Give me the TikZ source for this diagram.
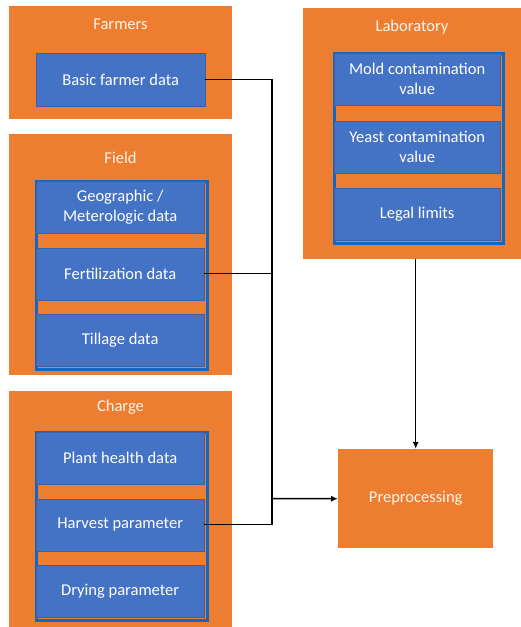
\documentclass[tikz,border=0pt]{standalone}
\usepackage{fontspec}
\setmainfont{Carlito}
\usetikzlibrary{arrows.meta,calc,positioning}
\definecolor{boxorange}{RGB}{237,125,49}
\definecolor{itemblue}{RGB}{68,114,196}
\definecolor{edgeblue}{RGB}{16,104,196}

\begin{document}
\begin{tikzpicture}[x=1pt,y=-1pt,font=\fontsize{16.5}{20}\selectfont,>={Latex[length=7pt,width=6pt]},
  group/.style={fill=boxorange,anchor=north west,inner sep=0pt},
  grouptitle/.style={text=white!92!orange},
  holder/.style={fill=boxorange,draw=edgeblue,line width=3.5pt,anchor=north west,inner sep=0pt},
  item/.style={fill=itemblue,draw=itemblue!85!black,line width=0.4pt,text=white,align=center,anchor=north west,inner sep=0pt},
  link/.style={line width=1.5pt}]
\useasboundingbox (0,0) rectangle (521,627);
% farmers
\node[group,minimum width=223pt,minimum height=113pt] (farmers) at (9,6) {};
\node[grouptitle] (farmerstitle) at (120.5,24) {Farmers};
\node[item,minimum width=169pt,minimum height=53pt] (basic) at (36,53) {Basic farmer data};
% field
\node[group,minimum width=223pt,minimum height=241pt] (field) at (9,134) {};
\node[grouptitle] (fieldtitle) at (120.5,158) {Field};
\node[holder,minimum width=171pt,minimum height=188pt] (fieldholder) at (34.5,179.5) {};
\node[item,minimum width=168pt,minimum height=52pt] (geo) at (36,181) {Geographic /\\Meterologic data};
\node[item,minimum width=168pt,minimum height=52pt] (fert) at (36,247.5) {Fertilization data};
\node[item,minimum width=168pt,minimum height=52pt] (tillage) at (36,314) {Tillage data};
% charge
\node[group,minimum width=223pt,minimum height=236pt] (charge) at (9,391) {};
\node[grouptitle] (chargetitle) at (120.5,407) {Charge};
\node[holder,minimum width=171pt,minimum height=188pt] (chargeholder) at (34.5,430.5) {};
\node[item,minimum width=168pt,minimum height=52pt] (health) at (36,432) {Plant health data};
\node[item,minimum width=168pt,minimum height=52pt] (harvest) at (36,498.5) {Harvest parameter};
\node[item,minimum width=168pt,minimum height=52pt] (drying) at (36,565) {Drying parameter};
% laboratory
\node[group,minimum width=218pt,minimum height=251pt] (lab) at (303,8) {};
\node[grouptitle] (labtitle) at (412,27) {Laboratory};
\node[holder,minimum width=169pt,minimum height=190pt] (labholder) at (332.5,51.5) {};
\node[item,minimum width=166pt,minimum height=52pt] (mold) at (334,53) {Mold contamination\\value};
\node[item,minimum width=166pt,minimum height=52pt] (yeast) at (334,120.5) {Yeast contamination\\value};
\node[item,minimum width=166pt,minimum height=52pt] (legal) at (334,188) {Legal limits};
% preprocessing
\node[group,text=white!92!orange,minimum width=155pt,minimum height=99pt] (prep) at (338,449) {Preprocessing};
% links
\coordinate (jn) at (272,498.5);
\draw[link] (basic.east) -| (jn);
\draw[link] (fert.east) -| (jn);
\draw[link] (harvest.east) -| (jn);
\draw[link,->] (jn) -- (prep.west);
\draw[link,->] (prep.north |- lab.south) -- (prep.north);
\end{tikzpicture}
\end{document}
